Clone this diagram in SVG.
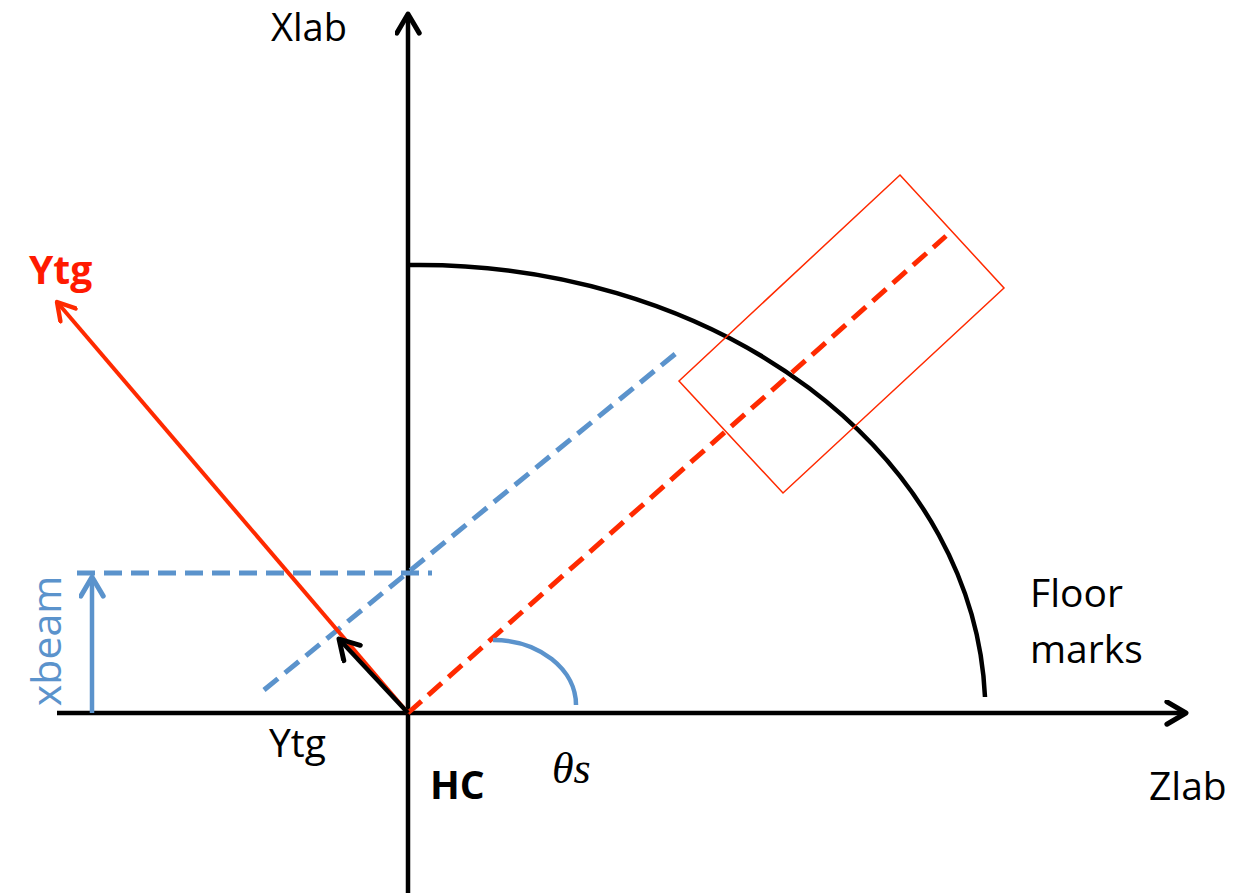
<svg xmlns="http://www.w3.org/2000/svg" width="1240" height="896" viewBox="0 0 1240 896">
<style>
text{font-family:"Open Sans","Liberation Sans",sans-serif;font-size:39px;fill:#000}
.axis{stroke:#000;stroke-width:4.5;fill:none}
.bl{stroke:#5b93cc;stroke-width:4.5;fill:none}
.bd{stroke:#5b93cc;stroke-width:5;fill:none;stroke-dasharray:18 9}
.rd{stroke:#ff2a00;stroke-width:5;fill:none;stroke-dasharray:18 9}
</style>
<defs>
<marker id="ak" viewBox="0 0 12 12" refX="10" refY="6" markerWidth="6" markerHeight="6" markerUnits="strokeWidth" orient="auto"><path d="M1.5 1 L10 6 L1.5 11" fill="none" stroke="#000" stroke-width="2.2" stroke-linecap="round" stroke-linejoin="round"/></marker>
<marker id="ar" viewBox="0 0 12 12" refX="10" refY="6" markerWidth="6" markerHeight="6" markerUnits="strokeWidth" orient="auto"><path d="M1.5 1 L10 6 L1.5 11" fill="none" stroke="#ff2a00" stroke-width="2.2" stroke-linecap="round" stroke-linejoin="round"/></marker>
<marker id="ab" viewBox="0 0 12 12" refX="10" refY="6" markerWidth="6" markerHeight="6" markerUnits="strokeWidth" orient="auto"><path d="M1.5 1 L10 6 L1.5 11" fill="none" stroke="#5b93cc" stroke-width="2.2" stroke-linecap="round" stroke-linejoin="round"/></marker>
</defs>
<g id="connectors">
<line class="axis" x1="57" y1="713" x2="1186" y2="713" marker-end="url(#ak)"/>
<line class="axis" x1="408" y1="893" x2="408" y2="14" marker-end="url(#ak)"/>
<path class="axis" d="M410 265 A566 448 0 0 1 985 697"/>
<polygon points="900,175 1004,288 783,493 679,381" fill="none" stroke="#ff2a00" stroke-width="1.5"/>
<line class="rd" x1="408" y1="713" x2="946" y2="236"/>
<line class="bd" x1="264" y1="690" x2="680" y2="350"/>
<line class="bd" x1="77" y1="573" x2="432" y2="573"/>
<line class="bl" x1="92" y1="713" x2="92" y2="577" marker-end="url(#ab)"/>
<line x1="408" y1="713" x2="57" y2="302" stroke="#ff2a00" stroke-width="4" marker-end="url(#ar)"/>
<line x1="408" y1="713" x2="339" y2="639" stroke="#000" stroke-width="4.5" marker-end="url(#ak)"/>
<path class="bl" d="M493 640 A83 65 0 0 1 576 705"/>
</g>
<g id="labels">
<text x="271" y="41" style="font-size:38px">Xlab</text>
<text x="1149" y="800">Zlab</text>
<text x="1030" y="607">Floor</text>
<text x="1030" y="663">marks</text>
<text x="269" y="757">Ytg</text>
<text x="29" y="284" style="fill:#ff1a00;font-weight:bold">Ytg</text>
<text x="430" y="799" style="font-weight:bold">HC</text>
<text x="552" y="783" style="font-family:'Liberation Serif',serif;font-style:italic;font-size:44px">θs</text>
<text x="0" y="0" transform="translate(61,641) rotate(-90)" text-anchor="middle" style="fill:#5b93cc;font-size:41px">xbeam</text>
</g>
</svg>
